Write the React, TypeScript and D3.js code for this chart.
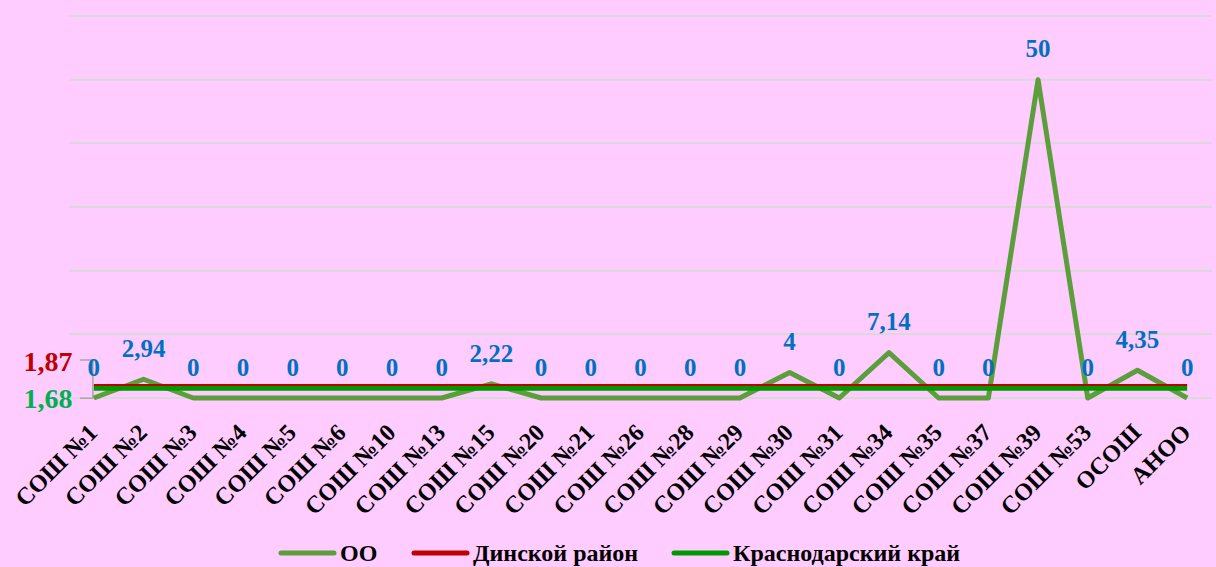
import React from "react";
import * as d3 from "d3";

const categories = ["СОШ №1","СОШ №2","СОШ №3","СОШ №4","СОШ №5","СОШ №6","СОШ №10","СОШ №13","СОШ №15","СОШ №20","СОШ №21","СОШ №26","СОШ №28","СОШ №29","СОШ №30","СОШ №31","СОШ №34","СОШ №35","СОШ №37","СОШ №39","СОШ №53","ОСОШ","АНОО"];
const ooValues = [0, 2.94, 0, 0, 0, 0, 0, 0, 2.22, 0, 0, 0, 0, 0, 4, 0, 7.14, 0, 0, 50, 0, 4.35, 0];
const ooLabels = ["0","2,94","0","0","0","0","0","0","2,22","0","0","0","0","0","4","0","7,14","0","0","50","0","4,35","0"];
const districtValue = 1.87;
const regionValue = 1.68;
const yTicks = [0, 10, 20, 30, 40, 50, 60];
const seriesNames = ["ОО", "Динской район", "Краснодарский край"];

const W = 1216, H = 567;
const FONT = "Liberation Serif, DejaVu Serif, serif";
const C_OO = "#5B9E3B";
const C_D = "#C00000";
const C_K = "#009A00";
const C_LABEL = "#0070C0";

export default function App() {
  const x = d3.scaleBand<string>().domain(categories).range([69, 1212]);
  const cx = (c: string) => (x(c) as number) + x.bandwidth() / 2;
  const y = d3.scaleLinear().domain([0, 60]).range([398, 16]);
  const line = d3.line<number>().x((_, i) => cx(categories[i])).y(v => y(v));
  const firstX = cx(categories[0]);
  const lastX = cx(categories[categories.length - 1]);

  const legendItems = [
    { name: seriesNames[0], color: C_OO, lx: 281, tx: 340 },
    { name: seriesNames[1], color: C_D, lx: 414, tx: 473 },
    { name: seriesNames[2], color: C_K, lx: 674, tx: 733 },
  ];

  return (
    <svg width={W} height={H} style={{ position: "absolute", left: 0, top: 0, fontFamily: FONT }}>
      <rect width={W} height={H} fill="#FFCCFF" />
      {yTicks.map(t => (
        <line key={t} x1={69} x2={1212} y1={y(t)} y2={y(t)} stroke="#D9D9D9" strokeWidth={2} />
      ))}
      <path d={`M80,${y(districtValue) - 26}H${firstX - 1}V${y(regionValue) + 11}H80`} fill="none" stroke="#A6A6A6" strokeWidth={1.5} />
      <path d={line(ooValues) as string} fill="none" stroke={C_OO} strokeWidth={5} strokeLinejoin="round" />
      <line x1={firstX} x2={lastX} y1={y(regionValue) + 1} y2={y(regionValue) + 1} stroke={C_K} strokeWidth={5} />
      <line x1={firstX} x2={lastX} y1={y(districtValue) - 1} y2={y(districtValue) - 1} stroke={C_D} strokeWidth={2} />
      {ooValues.map((v, i) => (
        <text key={i} x={cx(categories[i])} y={y(v) - 31} dy="0.35em" textAnchor="middle" fill={C_LABEL} fontWeight="bold" fontSize={25}>{ooLabels[i]}</text>
      ))}
      <text x={48} y={361} dy="0.35em" textAnchor="middle" fill={C_D} fontWeight="bold" fontSize={28}>1,87</text>
      <text x={48} y={398} dy="0.35em" textAnchor="middle" fill="#00B050" fontWeight="bold" fontSize={28}>1,68</text>
      {categories.map(c => (
        <text key={c} transform={`translate(${cx(c) - 1},${428}) rotate(-45)`} dy="0.35em" textAnchor="end" fill="#000" fontWeight="bold" fontSize={24}>{c}</text>
      ))}
      {legendItems.map(it => (
        <g key={it.name}>
          <line x1={it.lx} x2={it.lx + 53} y1={553} y2={553} stroke={it.color} strokeWidth={5} strokeLinecap="round" />
          <text x={it.tx} y={553} dy="0.35em" fill="#000" fontWeight="bold" fontSize={24}>{it.name}</text>
        </g>
      ))}
    </svg>
  );
}
